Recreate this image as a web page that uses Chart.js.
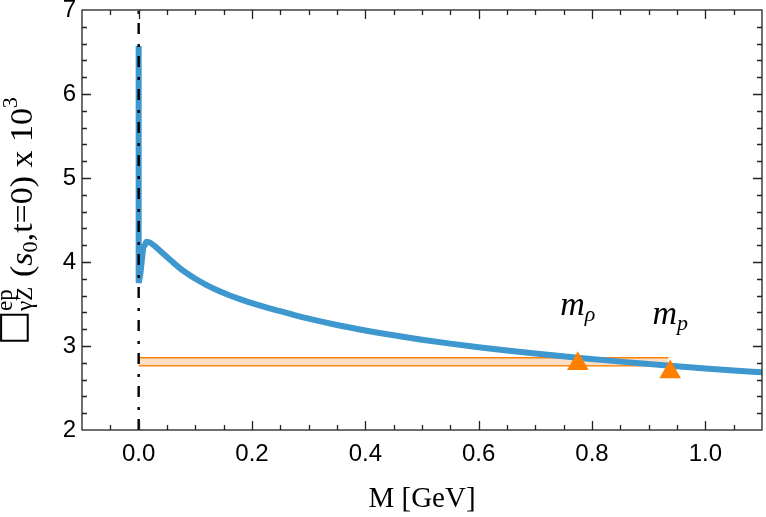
<!DOCTYPE html>
<html>
<head>
<meta charset="utf-8">
<script src="https://cdn.jsdelivr.net/npm/chart.js@4"></script>
<style>
html,body{margin:0;padding:0;background:#fff;}
canvas{display:block;}
</style>
</head>
<body>
<canvas id="c" width="766" height="517" style="width:766px;height:517px"></canvas>
<script>
// ---- data ----
const spikeX = [0, 0, 0.003, 0.008, 0.014];
const spikeY = [6.57, 3.75, 3.86, 4.17, 4.24];
const curveX = [0.014, 0.02, 0.03, 0.04, 0.05, 0.06, 0.072, 0.085, 0.1, 0.12, 0.14, 0.16, 0.18, 0.2, 0.225, 0.25, 0.275, 0.3, 0.35, 0.4, 0.45, 0.5, 0.55, 0.6, 0.65, 0.7, 0.775, 0.85, 0.938, 1.0, 1.05, 1.1];
const curveY = [4.24, 4.23, 4.18, 4.12, 4.06, 4.00, 3.93, 3.865, 3.80, 3.725, 3.66, 3.605, 3.555, 3.51, 3.46, 3.415, 3.368, 3.325, 3.25, 3.185, 3.127, 3.075, 3.028, 2.985, 2.946, 2.91, 2.86, 2.814, 2.765, 2.733, 2.709, 2.686];
const bandX = [0, 0.935];
const bandUpper = [2.86, 2.86];
const bandLower = [2.765, 2.765];
const massX = [0.775, 0.938];
const massY = [2.79, 2.69];
const massSub = ['ρ', 'p'];
const vlineX = [0, 0];
const vlineY = [2, 7];
const xTickValues = [0, 0.2, 0.4, 0.6, 0.8, 1.0];
const xTickLabels = ['0.0', '0.2', '0.4', '0.6', '0.8', '1.0'];
const yTickValues = [2, 3, 4, 5, 6, 7];
const yTickLabels = ['2', '3', '4', '5', '6', '7'];
const xMinorStep = 0.05;
const yMinorStep = 0.2;

const pts = (xs, ys) => xs.map((x, i) => ({x: x, y: ys[i]}));

const BLUE = 'rgb(62,152,207)';
const ORANGE = 'rgb(255,128,0)';

const frameTicks = {
  id: 'frameTicks',
  afterDatasetsDraw(chart) {
    const {ctx, chartArea: a, scales: {x, y}} = chart;
    ctx.save();
    ctx.strokeStyle = '#222';
    ctx.lineWidth = 1.3;
    ctx.strokeRect(a.left, a.top, a.right - a.left, a.bottom - a.top);
    ctx.beginPath();
    const maj = 9, mnr = 5;
    const nx = Math.round((x.max - x.min) / xMinorStep);
    for (let i = 0; i <= nx; i++) {
      const v = x.min + i * xMinorStep;
      if (v <= x.min + 1e-9 || v >= x.max - 1e-9) continue;
      const major = xTickValues.some(t => Math.abs(t - v) < 1e-6);
      const L = major ? maj : mnr;
      const px = Math.round(x.getPixelForValue(v)) + 0.5;
      ctx.moveTo(px, a.bottom); ctx.lineTo(px, a.bottom - L);
      ctx.moveTo(px, a.top); ctx.lineTo(px, a.top + L);
    }
    const ny = Math.round((y.max - y.min) / yMinorStep);
    for (let i = 0; i <= ny; i++) {
      const v = y.min + i * yMinorStep;
      if (v <= y.min + 1e-9 || v >= y.max - 1e-9) continue;
      const major = yTickValues.some(t => Math.abs(t - v) < 1e-6);
      const L = major ? maj : mnr;
      const py = Math.round(y.getPixelForValue(v)) + 0.5;
      ctx.moveTo(a.left, py); ctx.lineTo(a.left + L, py);
      ctx.moveTo(a.right, py); ctx.lineTo(a.right - L, py);
    }
    ctx.stroke();
    ctx.restore();
  }
};

const massLabels = {
  id: 'massLabels',
  afterDatasetsDraw(chart) {
    const {ctx, scales: {x, y}} = chart;
    ctx.save();
    ctx.fillStyle = '#000';
    ctx.textBaseline = 'alphabetic';
    ctx.textAlign = 'left';
    const mFont = 'italic 34px "Liberation Serif"';
    const sFont = 'italic 22px "Liberation Serif"';
    massX.forEach((mx, i) => {
      const cx = x.getPixelForValue(mx);
      const base = y.getPixelForValue(massY[i]) - 48.5;
      ctx.font = mFont;
      const w1 = ctx.measureText('m').width;
      ctx.font = sFont;
      const w2 = ctx.measureText(massSub[i]).width;
      const x0 = cx - (w1 + w2) / 2;
      ctx.font = mFont;
      ctx.fillText('m', x0, base);
      ctx.font = sFont;
      ctx.fillText(massSub[i], x0 + w1, base + 6);
    });
    ctx.restore();
  }
};

const yLabel = {
  id: 'yLabel',
  afterDraw(chart) {
    const {ctx, chartArea: a} = chart;
    const cy = (a.top + a.bottom) / 2;
    ctx.save();
    ctx.translate(32, cy);
    ctx.rotate(-Math.PI / 2);
    ctx.fillStyle = '#000';
    ctx.textBaseline = 'alphabetic';
    // box symbol: size from its vertical ink extent, centred horizontally
    ctx.textAlign = 'center';
    ctx.font = '100px "DejaVu Sans"';
    const m = ctx.measureText('□');
    const inkH = m.actualBoundingBoxAscent + m.actualBoundingBoxDescent;
    const s = 29 / inkH;
    ctx.font = (100 * s).toFixed(2) + 'px "DejaVu Sans"';
    ctx.fillText('□', -107.5, -32 + m.actualBoundingBoxAscent * s);
    ctx.textAlign = 'left';
    const x0 = -91;
    ctx.font = '23px "Liberation Serif"';
    ctx.fillText('ep', x0, -20);
    ctx.fillText('γZ', x0, 0);
    // main part, stretched to the reference span
    const runs = [
      ['32px "Liberation Serif"', '(', 0],
      ['italic 32px "Liberation Serif"', 's', 0],
      ['21px "Liberation Serif"', '0', 5],
      ['32px "Liberation Serif"', ',t=0) x 10', 0],
      ['21px "Liberation Serif"', '3', -15]
    ];
    let total = 0;
    runs.forEach(r => { ctx.font = r[0]; total += ctx.measureText(r[1]).width; });
    const start = -57, end = 123;
    ctx.translate(start, 0);
    ctx.scale((end - start) / total, 1);
    let x = 0;
    runs.forEach(r => {
      ctx.font = r[0];
      ctx.fillText(r[1], x, r[2]);
      x += ctx.measureText(r[1]).width;
    });
    ctx.restore();
  }
};

new Chart(document.getElementById('c'), {
  type: 'scatter',
  data: {
    datasets: [
      {data: pts(vlineX, vlineY), showLine: true, borderColor: '#000', borderWidth: 2.4, borderDash: [11, 9, 3, 10], pointRadius: 0, order: 0},
      {data: pts(massX, massY), pointStyle: 'triangle', pointRadius: 12.5, pointBackgroundColor: ORANGE, pointBorderWidth: 0, borderColor: ORANGE, order: 1},
      {data: pts(spikeX, spikeY), showLine: true, borderColor: BLUE, borderWidth: 6, pointRadius: 0, borderJoinStyle: 'miter', order: 2},
      {data: pts(curveX, curveY), showLine: true, borderColor: BLUE, borderWidth: 6, pointRadius: 0, cubicInterpolationMode: 'monotone', borderCapStyle: 'round', order: 2},
      {data: pts(bandX, bandUpper), showLine: true, borderColor: ORANGE, borderWidth: 1.5, pointRadius: 0, fill: '+1', backgroundColor: 'rgba(255,170,100,0.37)', order: 3},
      {data: pts(bandX, bandLower), showLine: true, borderColor: ORANGE, borderWidth: 1.5, pointRadius: 0, fill: false, order: 3}
    ]
  },
  options: {
    responsive: false,
    animation: false,
    layout: {autoPadding: false, padding: {left: 0, right: 4, top: 10, bottom: 0}},
    plugins: {legend: {display: false}, tooltip: {enabled: false}},
    scales: {
      x: {
        type: 'linear', min: -0.1, max: 1.1,
        afterBuildTicks: s => { s.ticks = xTickValues.map(v => ({value: v})); },
        afterFit: s => { s.height = 87; s.paddingLeft = 0; s.paddingRight = 0; },
        ticks: {font: {family: 'Liberation Sans', size: 24}, color: '#000', padding: 10, maxRotation: 0, autoSkip: false,
          callback: (v, i) => xTickLabels[i]},
        grid: {display: false, drawTicks: false},
        border: {display: false},
        title: {display: true, text: 'M [GeV]', font: {family: 'Liberation Serif', size: 29}, color: '#000', padding: {top: -2, bottom: 0}}
      },
      y: {
        type: 'linear', min: 2, max: 7,
        afterBuildTicks: s => { s.ticks = yTickValues.map(v => ({value: v})); },
        afterFit: s => { s.width = 82; s.paddingTop = 0; s.paddingBottom = 0; },
        ticks: {font: {family: 'Liberation Sans', size: 24}, color: '#000', padding: 6, autoSkip: false,
          callback: (v, i) => yTickLabels[i]},
        grid: {display: false, drawTicks: false},
        border: {display: false}
      }
    }
  },
  plugins: [frameTicks, massLabels, yLabel]
});
</script>
</body>
</html>
